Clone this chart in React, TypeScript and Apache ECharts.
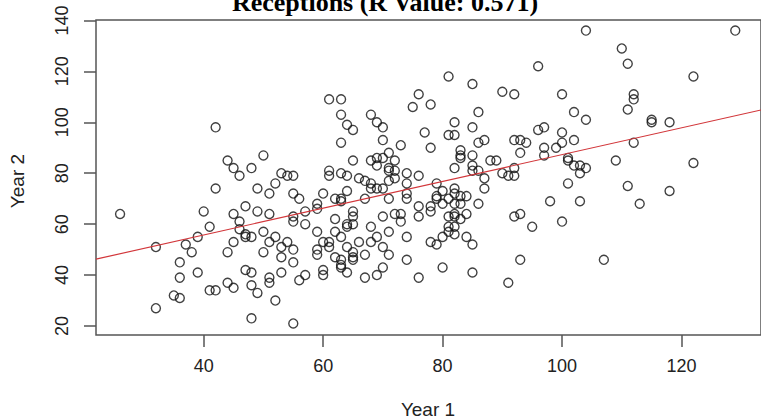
import React, { useEffect, useRef } from "react";
import * as echarts from "echarts";

const titleText = "Receptions (R Value: 0.571)";
const xName = "Year 1";
const yName = "Year 2";
const xTicks = [40, 60, 80, 100, 120];
const yTicks = [20, 40, 60, 80, 100, 120, 140];
const xRange = [21.97, 133.31];
const yRange = [16.47, 140.16];
const fitIntercept = 34.7;
const fitSlope = 0.526;

// Year 1 receptions
const year1 = [
  42, 44, 45, 46, 48, 50, 53, 54, 42, 49, 52, 51,
  26, 40, 45, 47, 49, 51, 46, 41, 46, 47, 48, 47, 50, 39, 32, 37, 38, 45, 44, 51, 52, 54, 50, 53, 53, 36, 36, 39, 47, 48, 53, 51, 51, 44, 45, 48, 49, 41, 42, 35, 36, 52, 32, 48, 55,
  81, 85, 90, 61, 63, 76, 75, 78, 86, 63, 68, 64, 65, 69, 70, 82, 85, 77, 81, 82, 63, 70, 73, 78, 86, 87, 83, 83, 83, 85, 88, 89, 65, 68, 69, 70, 71, 72, 69, 71, 71, 72, 61, 61, 63, 64, 66, 67, 68, 72, 74, 76, 71, 74, 82, 85, 85, 86, 87, 90, 91, 55, 64, 68, 69, 70, 79, 80, 82, 82, 87, 55, 60, 74,
  56, 62, 63, 63, 67, 71, 74, 76, 78, 78, 79, 79, 80, 81, 82, 83, 83, 84, 86, 55, 55, 57, 59, 59, 57, 62, 65, 65, 65, 64, 64, 63, 62, 59, 68, 70, 72, 73, 73, 71, 74, 69, 76, 81, 82, 82, 83, 84, 81, 82, 82, 81, 80, 84, 85, 78, 79, 55, 55, 59, 59, 60, 61, 61, 64, 65, 65, 65, 66, 67, 68, 70, 71, 62, 63, 63, 63, 64, 60, 60, 57, 56, 67, 69, 70, 74, 76, 80, 85, 91,
  104, 129, 110, 111, 96, 122, 92, 100, 112, 112, 111, 102, 104, 115, 115, 118, 96, 97, 100, 92, 93, 94, 100, 102, 97, 99, 93, 112, 97, 101, 101, 102, 103, 104, 103, 109, 122, 92, 92, 101, 111, 118,
  98, 103, 113, 92, 93, 95, 100, 93, 107,
];

// Year 2 receptions
const year2 = [
  98, 85, 82, 79, 82, 87, 80, 79, 74, 74, 76, 72,
  64, 65, 64, 67, 65, 64, 61, 59, 58, 56, 55, 55, 57, 55, 51, 52, 49, 53, 49, 53, 55, 53, 49, 51, 47, 45, 39, 41, 42, 41, 41, 39, 37, 37, 35, 36, 33, 34, 34, 32, 31, 30, 27, 23, 21,
  118, 115, 112, 109, 109, 111, 106, 107, 104, 103, 103, 99, 97, 100, 98, 100, 98, 96, 95, 95, 92, 93, 91, 90, 92, 93, 89, 87, 86, 87, 85, 85, 85, 85, 86, 86, 88, 85, 83, 82, 81, 81, 81, 79, 80, 79, 78, 77, 76, 78, 80, 79, 77, 76, 82, 83, 81, 81, 78, 80, 79, 79, 73, 74, 74, 74, 76, 73, 74, 72, 74, 72, 72, 72,
  70, 70, 70, 69, 70, 70, 70, 67, 67, 65, 71, 70, 68, 70, 68, 68, 71, 71, 68, 63, 61, 65, 68, 66, 60, 62, 65, 63, 60, 60, 59, 55, 57, 57, 59, 63, 64, 64, 61, 57, 55, 55, 63, 63, 64, 63, 62, 64, 59, 59, 56, 57, 55, 55, 52, 53, 52, 50, 45, 50, 48, 53, 53, 51, 51, 49, 47, 46, 53, 48, 53, 51, 48, 47, 46, 44, 43, 41, 42, 40, 40, 38, 39, 40, 43, 46, 39, 43, 41, 37,
  136, 136, 129, 123, 122, 118, 111, 111, 111, 109, 105, 104, 101, 101, 100, 100, 97, 98, 96, 93, 93, 92, 92, 93, 90, 90, 88, 92, 87, 86, 85, 83, 83, 82, 80, 85, 84, 79, 82, 76, 75, 73,
  69, 69, 68, 63, 64, 59, 61, 46, 46,
];

export default function App() {
  const ref = useRef<HTMLDivElement>(null);
  useEffect(() => {
    if (!ref.current) return;
    const chart = echarts.init(ref.current, null, { renderer: "svg" });
    const points = year1.map((x, i) => [x, year2[i]]);
    const fitLine = xRange.map((x) => [x, fitIntercept + fitSlope * x]);
    const axisFont = { fontFamily: "Liberation Sans, Arial, sans-serif", fontSize: 18, color: "#222" };
    chart.setOption({
      animation: false,
      backgroundColor: "#fff",
      grid: {
        left: 96,
        top: 20,
        right: -2,
        bottom: 84,
        show: true,
        borderColor: "#555",
        borderWidth: 1.5,
        containLabel: false,
      },
      xAxis: {
        type: "value",
        min: xRange[0],
        max: xRange[1],
        splitLine: { show: false },
        axisLine: { show: false },
        axisTick: { show: true, length: 12, customValues: xTicks, lineStyle: { color: "#555", width: 1.5 } },
        axisLabel: { show: true, customValues: xTicks, margin: 22, ...axisFont },
      },
      yAxis: {
        type: "value",
        min: yRange[0],
        max: yRange[1],
        splitLine: { show: false },
        axisLine: { show: false },
        axisTick: { show: true, length: 12, customValues: yTicks, lineStyle: { color: "#555", width: 1.5 } },
        axisLabel: { show: true, customValues: yTicks, rotate: 90, margin: 25, ...axisFont },
      },
      graphic: [
        {
          type: "text",
          x: 385,
          y: 2,
          style: {
            text: titleText,
            font: "bold 26px 'Liberation Serif', 'Times New Roman', serif",
            fill: "#000",
            textAlign: "center",
            textVerticalAlign: "middle",
          },
        },
        {
          type: "text",
          x: 428,
          y: 409,
          style: {
            text: xName,
            font: "19px 'Liberation Sans', Arial, sans-serif",
            fill: "#222",
            textAlign: "center",
            textVerticalAlign: "middle",
          },
        },
        {
          type: "text",
          x: 17,
          y: 181,
          rotation: Math.PI / 2,
          style: {
            text: yName,
            font: "19px 'Liberation Sans', Arial, sans-serif",
            fill: "#222",
            textAlign: "center",
            textVerticalAlign: "middle",
          },
        },
      ],
      series: [
        {
          type: "scatter",
          data: points,
          symbol: "circle",
          symbolSize: 9,
          itemStyle: { color: "rgba(0,0,0,0)", borderColor: "#111", borderWidth: 1.4 },
          silent: true,
        },
        {
          type: "line",
          data: fitLine,
          showSymbol: false,
          lineStyle: { color: "#d2363a", width: 1.2 },
          silent: true,
        },
      ],
    });
    return () => chart.dispose();
  }, []);
  return (
    <div
      ref={ref}
      style={{ position: "fixed", left: 0, top: 0, width: 761, height: 419, background: "#fff" }}
    />
  );
}
